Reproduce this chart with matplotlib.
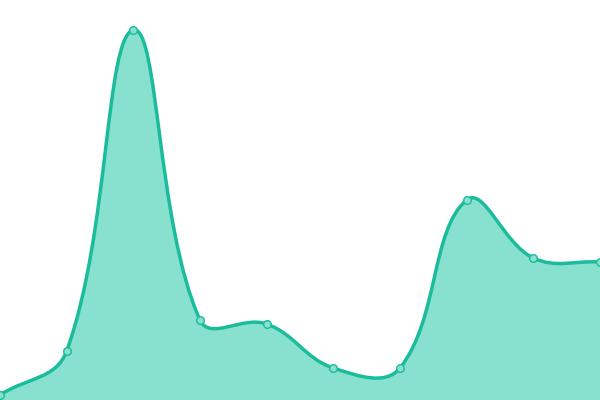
import matplotlib
matplotlib.use("Agg")
import matplotlib.pyplot as plt
import matplotlib.patches as patches
from matplotlib.path import Path
import numpy as np

# data
x_vals = [0, 1, 2, 3, 4, 5, 6, 7, 8, 9]
y_vals = [5, 49, 370, 80, 76, 32, 32, 200, 142, 138]

LINE = '#1abc9c'
FILL = '#88e0cf'
TENSION = 0.4


def smooth_path(xs, ys, sx, sy, close_to=None):
    """Cubic curve through the points, control points spaced by pixel distance"""
    pts = np.column_stack([np.array(xs) * sx, np.array(ys) * sy]).astype(float)
    n = len(pts)
    prev_cp, next_cp = [], []
    for i in range(n):
        p0 = pts[max(i - 1, 0)]
        p1 = pts[i]
        p2 = pts[min(i + 1, n - 1)]
        d01 = np.hypot(*(p1 - p0))
        d12 = np.hypot(*(p2 - p1))
        tot = d01 + d12
        s01 = d01 / tot if tot else 0
        s12 = d12 / tot if tot else 0
        prev_cp.append(p1 - TENSION * s01 * (p2 - p0))
        next_cp.append(p1 + TENSION * s12 * (p2 - p0))
    scale = np.array([sx, sy])
    verts = [tuple(pts[0] / scale)]
    codes = [Path.MOVETO]
    for i in range(n - 1):
        verts += [tuple(next_cp[i] / scale), tuple(prev_cp[i + 1] / scale),
                  tuple(pts[i + 1] / scale)]
        codes += [Path.CURVE4] * 3
    if close_to is not None:
        verts += [(xs[-1], close_to), (xs[0], close_to), (xs[0], ys[0])]
        codes += [Path.LINETO, Path.LINETO, Path.CLOSEPOLY]
    return Path(verts, codes)


fig = plt.figure(figsize=(6, 4), dpi=100)
ax = fig.add_axes([0, 0, 1, 1])
ax.set_xlim(0, 9)
ax.set_ylim(0, 400)
ax.axis('off')

sx = 600 / 9.0
sy = 400 / 400.0

ax.add_patch(patches.PathPatch(smooth_path(x_vals, y_vals, sx, sy, close_to=0),
                               facecolor=FILL, edgecolor='none', zorder=1))
ax.add_patch(patches.PathPatch(smooth_path(x_vals, y_vals, sx, sy),
                               facecolor='none', edgecolor=LINE, linewidth=2.5,
                               capstyle='round', joinstyle='round', zorder=2))
ax.plot(x_vals, y_vals, linestyle='none', marker='o', markersize=5.5,
        markerfacecolor=FILL, markeredgecolor=LINE, markeredgewidth=1,
        clip_on=False, zorder=3)

fig.savefig('out.png', dpi=100, facecolor='white')
